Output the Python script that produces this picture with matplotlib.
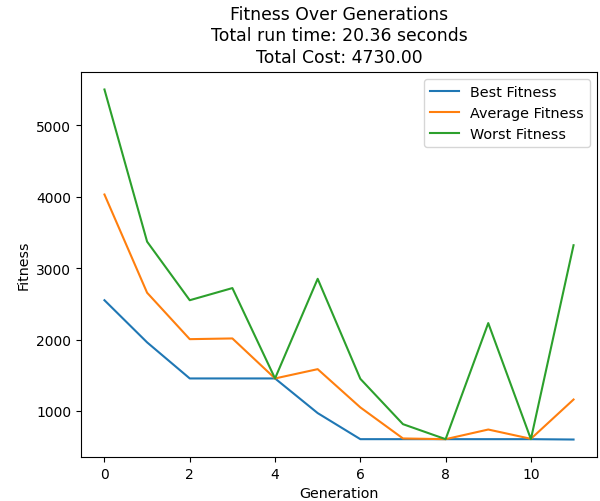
import numpy as np
import matplotlib
matplotlib.use("Agg")
import matplotlib.pyplot as plt

# Fitness values per generation
generations = list(range(12))
best_fitness = [2550, 1960, 1455, 1455, 1455, 970, 605, 605, 605, 605, 605, 600]
avg_fitness = [4030, 2655, 2005, 2015, 1455, 1585, 1050, 615, 605, 740, 610, 1160]
worst_fitness = [5500, 3370, 2550, 2720, 1455, 2850, 1450, 815, 605, 2230, 605, 3320]

run_time = 20.36
total_cost = 4730.00

fig = plt.figure(figsize=(6.0, 5.02), dpi=100)
ax = fig.add_axes([0.135, 0.0876, 0.86, 0.767])

ax.plot(generations, best_fitness, label='Best Fitness')
ax.plot(generations, avg_fitness, label='Average Fitness')
ax.plot(generations, worst_fitness, label='Worst Fitness')

ax.set_xlabel('Generation', fontsize=10.3)
ax.set_ylabel('Fitness', fontsize=10.3)
ax.set_title('Fitness Over Generations\nTotal run time: %.2f seconds\nTotal Cost: %.2f'
             % (run_time, total_cost), fontsize=12.45, linespacing=1.22, pad=7.5)
ax.legend(fontsize=10.4)

plt.savefig('out.png', dpi=100)
plt.close()
